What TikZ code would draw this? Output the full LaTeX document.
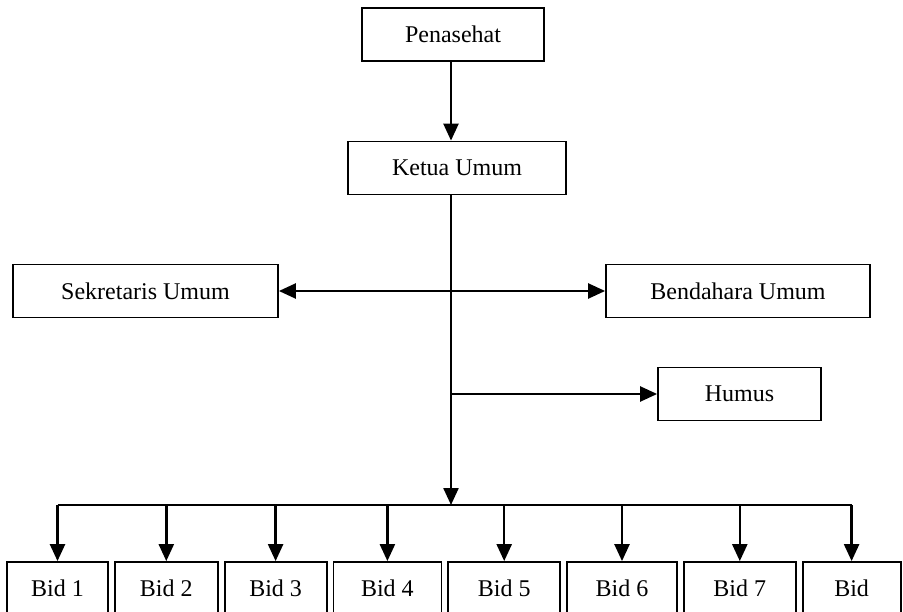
\documentclass[tikz,border=0pt]{standalone}
\usepackage{fontspec}
\setmainfont{Liberation Serif}
\usetikzlibrary{arrows.meta,positioning}

\begin{document}
\begin{tikzpicture}[x=1pt, y=-1pt, node distance=5pt, >={Triangle[length=17pt,width=15pt]},
                    link/.style={line width=2.4pt},
                    main node/.style={rectangle,draw,line width=1.8pt,inner sep=0pt,
                                      minimum height=53pt,font=\fontsize{24}{28}\selectfont},
                    bid node/.style={main node,minimum height=52pt}]
  \useasboundingbox (0,0) rectangle (903,612);

  \node[main node,minimum width=182pt] (1) at (453,34.5) {Penasehat};
  \node[main node,minimum width=218pt] (2) at (457,168) {Ketua Umum};
  \node[main node,minimum width=265pt] (3) at (145.5,291) {Sekretaris Umum};
  \node[main node,minimum width=264pt] (4) at (738,291) {Bendahara Umum};
  \node[main node,minimum width=163pt] (5) at (739.5,394) {Humus};

  \node[bid node,minimum width=101pt] (6) at (57.5,588) {Bid 1};
  \node[bid node,minimum width=103pt] (7) [right=of 6] {Bid 2};
  \node[bid node,minimum width=102pt] (8) [right=of 7] {Bid 3};
  \node[bid node,minimum width=108pt] (9) [right=of 8] {Bid 4};
  \node[bid node,minimum width=112pt] (10) [right=of 9] {Bid 5};
  \node[bid node,minimum width=110pt] (11) [right=of 10] {Bid 6};
  \node[bid node,minimum width=112pt] (12) [right=of 11] {Bid 7};
  \node[bid node,minimum width=98pt] (13) [right=of 12] {Bid};

  \coordinate (t) at (451,0);
  \coordinate (bus) at (451,505);

  \draw[link,->] (1.south -| t) -- (2.north -| t);
  \draw[link,->] (2.south -| t) -- (bus);
  \draw[link,<->] (3) -- (4);
  \draw[link,->] (5 -| t) -- (5);
  \draw[link] (6.north |- bus) -- (13.north |- bus);

  \path[link,->]
    (6.north |- bus) edge (6)
    (7.north |- bus) edge (7)
    (8.north |- bus) edge (8)
    (9.north |- bus) edge (9)
    (10.north |- bus) edge (10)
    (11.north |- bus) edge (11)
    (12.north |- bus) edge (12)
    (13.north |- bus) edge (13);
\end{tikzpicture}
\end{document}
